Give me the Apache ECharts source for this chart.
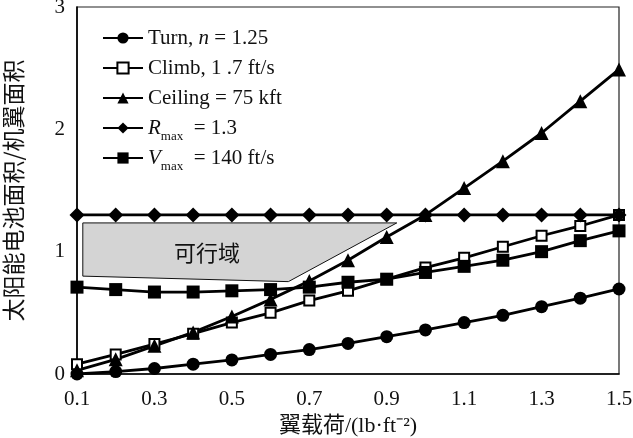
<!DOCTYPE html>
<html><head><meta charset="utf-8">
<script src="https://cdn.jsdelivr.net/npm/echarts@6/dist/echarts.min.js"></script>
<style>html,body{margin:0;padding:0;background:#fff}#c{width:633px;height:438px}</style>
</head><body><div id="c"></div>
<script>
const wingLoading = [0.1,0.2,0.3,0.4,0.5,0.6,0.7,0.8,0.9,1.0,1.1,1.2,1.3,1.4,1.5];
const turn    = [0.00,0.02,0.045,0.08,0.115,0.16,0.20,0.25,0.305,0.36,0.42,0.48,0.55,0.62,0.695];
const climb   = [0.08,0.16,0.245,0.33,0.42,0.50,0.60,0.68,0.775,0.87,0.95,1.04,1.13,1.21,1.30];
const ceiling = [0.03,0.12,0.23,0.34,0.47,0.61,0.76,0.93,1.12,1.30,1.52,1.74,1.97,2.23,2.49];
const rmax    = [1.3,1.3,1.3,1.3,1.3,1.3,1.3,1.3,1.3,1.3,1.3,1.3,1.3,1.3,1.3];
const vmax    = [0.71,0.69,0.67,0.67,0.68,0.69,0.71,0.75,0.775,0.83,0.88,0.93,1.00,1.09,1.17];
const regionX = [0.115,0.926,0.646,0.115];
const regionY = [1.235,1.235,0.755,0.80];
const regionLabel = '可行域';
const regionLabelPos = [0.436, 0.99];
const yTicks = [0,1,2,3];
const seriesNames = ['Turn','Climb','Ceiling','Rmax','Vmax'];

const SERIF = "'Liberation Serif','Times New Roman','Noto Sans CJK SC',serif";
const CJK = "'Noto Sans CJK SC','Liberation Serif',serif";
const pairs = arr => wingLoading.map((x,i)=>[x,arr[i]]);

const chart = echarts.init(document.getElementById('c'), null, {renderer:'canvas'});
const baseLine = {type:'line', lineStyle:{color:'#000', width:2.8}, showSymbol:true, z:3, animation:false};
const option = {
  animation:false,
  grid:{left:77, right:14, top:7, bottom:64, show:true, borderColor:'#222', borderWidth:1.2, containLabel:false, outerBoundsMode:'none'},
  legend:{
    orient:'vertical', left:97, top:18, itemWidth:40, itemHeight:14, itemGap:0,
    data:seriesNames,
    textStyle:{fontFamily:SERIF, fontSize:21, color:'#111', lineHeight:30,
      rich:{
        t:{fontFamily:SERIF, fontSize:21, color:'#111', lineHeight:30},
        i:{fontFamily:SERIF, fontSize:21, fontStyle:'italic', color:'#111', lineHeight:30},
        s:{fontFamily:SERIF, fontSize:13, color:'#111', lineHeight:8, verticalAlign:'bottom'}
      }},
    formatter:function(name){
      if(name==='Turn') return '{t|Turn, }{i|n}{t| = 1.25}';
      if(name==='Climb') return '{t|Climb, 1 .7 ft/s}';
      if(name==='Ceiling') return '{t|Ceiling = 75 kft}';
      if(name==='Rmax') return '{i|R}{s|max}{t|  = 1.3}';
      return '{i|V}{s|max}{t|  = 140 ft/s}';
    }
  },
  xAxis:{type:'value', min:0.1, max:1.5, interval:0.1,
    name:'翼载荷/(lb·ft⁻²)', nameLocation:'middle', nameGap:36,
    nameTextStyle:{fontFamily:SERIF, fontSize:22, color:'#111'},
    axisLine:{lineStyle:{color:'#000', width:1.6}}, axisTick:{show:false}, splitLine:{show:false},
    axisLabel:{fontFamily:SERIF, fontSize:21, color:'#111', margin:15,
      formatter:function(v){return Math.round(v*10)%2===1 ? v.toFixed(1) : '';}}},
  yAxis:{type:'value', min:yTicks[0], max:yTicks[yTicks.length-1], interval:1,
    name:'太阳能电池面积/机翼面积', nameLocation:'middle', nameGap:52, nameRotate:90,
    nameTextStyle:{fontFamily:CJK, fontSize:23, color:'#111'},
    axisLine:{show:true, lineStyle:{color:'#000', width:1.6}}, axisTick:{show:false}, splitLine:{show:false},
    axisLabel:{fontFamily:SERIF, fontSize:21, color:'#111', margin:12}},
  series:[
    {type:'custom', name:'region', z:1, silent:true, data:[[0,0]],
     renderItem:function(params, api){
       const pts = regionX.map((x,i)=>api.coord([x, regionY[i]]));
       const lp = api.coord(regionLabelPos);
       return {type:'group', children:[
         {type:'polygon', shape:{points:pts}, style:{fill:'#d4d4d4', stroke:'#111', lineWidth:1}},
         {type:'text', x:lp[0], y:lp[1], style:{text:regionLabel, fontFamily:CJK, fontSize:22, fill:'#111', align:'center', verticalAlign:'middle'}}
       ]};
     }},
    Object.assign({}, baseLine, {name:'Turn', data:pairs(turn), symbol:'circle', symbolSize:13, itemStyle:{color:'#000'}}),
    Object.assign({}, baseLine, {name:'Climb', data:pairs(climb), symbol:'rect', symbolSize:10, itemStyle:{color:'#fff', borderColor:'#000', borderWidth:2}}),
    Object.assign({}, baseLine, {name:'Ceiling', data:pairs(ceiling), symbol:'triangle', symbolSize:14, itemStyle:{color:'#000'}}),
    Object.assign({}, baseLine, {name:'Rmax', data:pairs(rmax), symbol:'diamond', symbolSize:15, itemStyle:{color:'#000'}}),
    Object.assign({}, baseLine, {name:'Vmax', data:pairs(vmax), symbol:'rect', symbolSize:13, itemStyle:{color:'#000'}})
  ]
};
chart.setOption(option);
</script></body></html>
